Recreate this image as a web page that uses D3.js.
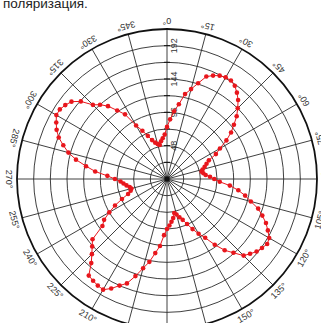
<!DOCTYPE html>
<html>
<head>
<meta charset="utf-8">
<script src="https://cdn.jsdelivr.net/npm/d3@7"></script>
<style>
  html, body { margin: 0; padding: 0; background: #fff; overflow: hidden; }
  svg { display: block; font-family: "Liberation Sans", Arial, sans-serif; }
</style>
</head>
<body>
<svg id="chart" width="321" height="323"></svg>
<script>
// Measurement angles, degrees (clockwise from the top)
const angles = [
  0, 3, 6, 9, 12, 15, 18, 21, 24, 27, 30, 33, 36, 39, 42, 45, 48, 51, 54, 57,
  60, 63, 66, 69, 72, 75, 78, 81, 84, 87, 90, 93, 96, 99, 102, 105, 108, 111, 114, 117,
  120, 123, 126, 129, 132, 135, 138, 141, 144, 147, 150, 153, 156, 159, 162, 165, 168, 171, 174, 177,
  180, 183, 186, 189, 192, 195, 198, 201, 204, 207, 210, 213, 216, 219, 222, 225, 228, 231, 234, 237,
  240, 243, 246, 249, 252, 255, 258, 261, 264, 267, 270, 273, 276, 279, 282, 285, 288, 291, 294, 297,
  300, 303, 306, 309, 312, 315, 318, 321, 324, 327, 330, 333, 336, 339, 342, 345, 348, 351, 354, 357
];

// Measured signal at each angle
const signal = [
  75, 86, 98, 109, 125, 134, 145, 158, 163, 167, 169, 169, 166, 160, 153, 144, 135, 124, 114, 102,
  88, 79, 66, 61, 57, 53, 51, 53, 56, 62, 68, 76, 91, 104, 115, 125, 138, 147, 156, 163,
  170, 172, 169, 166, 161, 156, 143, 132, 117, 101, 91, 81, 71, 63, 58, 53, 50, 57, 62, 67,
  72, 81, 97, 108, 122, 133, 147, 161, 168, 177, 184, 183, 181, 179, 163, 153, 145, 138, 115, 108,
  96, 84, 71, 60, 55, 53, 55, 59, 63, 67, 75, 86, 104, 118, 134, 147, 157, 167, 174, 179,
  184, 184, 181, 177, 167, 151, 144, 135, 122, 111, 89, 78, 68, 60, 55, 52, 50, 55, 59, 64
];

// Grid rings, labelled radii and angular spokes
const ringValues = [24, 48, 72, 96, 120, 144, 168, 192];
const radialLabels = [48, 96, 144, 192];
const angleTicks = [0, 15, 30, 45, 60, 75, 90, 105, 120, 135, 150, 165,
                    180, 195, 210, 225, 240, 255, 270, 285, 300, 315, 330, 345];
const maxValue = 216;

const cx = 167, cy = 179, outerR = 150;
const rad = d => d * Math.PI / 180;

const svg = d3.select("#chart");

svg.append("text")
  .attr("x", 3).attr("y", 7.5)
  .attr("font-size", 13.5)
  .attr("fill", "#222")
  .text("поляризация.");

const r = d3.scaleLinear().domain([0, maxValue]).range([0, outerR]);

const g = svg.append("g").attr("transform", `translate(${cx},${cy})`);

// spokes
g.selectAll("line.spoke")
  .data(angleTicks)
  .join("line")
  .attr("class", "spoke")
  .attr("x1", 0).attr("y1", 0)
  .attr("x2", d => d3.pointRadial(rad(d), r(maxValue))[0])
  .attr("y2", d => d3.pointRadial(rad(d), r(maxValue))[1])
  .attr("stroke", "#2a2a2a")
  .attr("stroke-width", 0.9);

// concentric rings
g.selectAll("circle.ring")
  .data(ringValues)
  .join("circle")
  .attr("class", "ring")
  .attr("r", d => r(d))
  .attr("fill", "none")
  .attr("stroke", "#2a2a2a")
  .attr("stroke-width", 0.9);

// outer boundary
g.append("circle")
  .attr("r", r(maxValue))
  .attr("fill", "none")
  .attr("stroke", "#111")
  .attr("stroke-width", 1.8);

g.append("circle").attr("r", 2.5).attr("fill", "#111");

// tick marks on the 0° axis
g.selectAll("line.vtick")
  .data(ringValues)
  .join("line")
  .attr("class", "vtick")
  .attr("x1", -3).attr("x2", 3)
  .attr("y1", d => -r(d)).attr("y2", d => -r(d))
  .attr("stroke", "#111")
  .attr("stroke-width", 1);

// radial value labels
g.selectAll("text.rlabel")
  .data(radialLabels)
  .join("text")
  .attr("class", "rlabel")
  .attr("transform", d => `translate(3,${-r(d)}) rotate(-90)`)
  .attr("y", 7)
  .attr("text-anchor", "middle")
  .attr("font-size", 9)
  .attr("fill", "#333")
  .text(d => d);

// angle labels around the rim
g.selectAll("text.alabel")
  .data(angleTicks)
  .join("text")
  .attr("class", "alabel")
  .attr("transform", d => {
    const [x, y] = d3.pointRadial(rad(d), r(maxValue) + 8);
    return `translate(${x},${y}) rotate(${d + 180})`;
  })
  .attr("text-anchor", "middle")
  .attr("dy", "0.35em")
  .attr("font-size", 9)
  .attr("fill", "#333")
  .text(d => d + "°");

// data series
const data = angles.map((a, i) => ({ a, v: signal[i] }));
const red = "#e8161c";

const line = d3.lineRadial()
  .angle(d => rad(d.a))
  .radius(d => r(d.v))
  .curve(d3.curveLinearClosed);

g.append("path")
  .datum(data)
  .attr("d", line)
  .attr("fill", "none")
  .attr("stroke", red)
  .attr("stroke-width", 1);

g.selectAll("circle.pt")
  .data(data)
  .join("circle")
  .attr("class", "pt")
  .attr("cx", d => d3.pointRadial(rad(d.a), r(d.v))[0])
  .attr("cy", d => d3.pointRadial(rad(d.a), r(d.v))[1])
  .attr("r", 2.3)
  .attr("fill", red);
</script>
</body>
</html>
